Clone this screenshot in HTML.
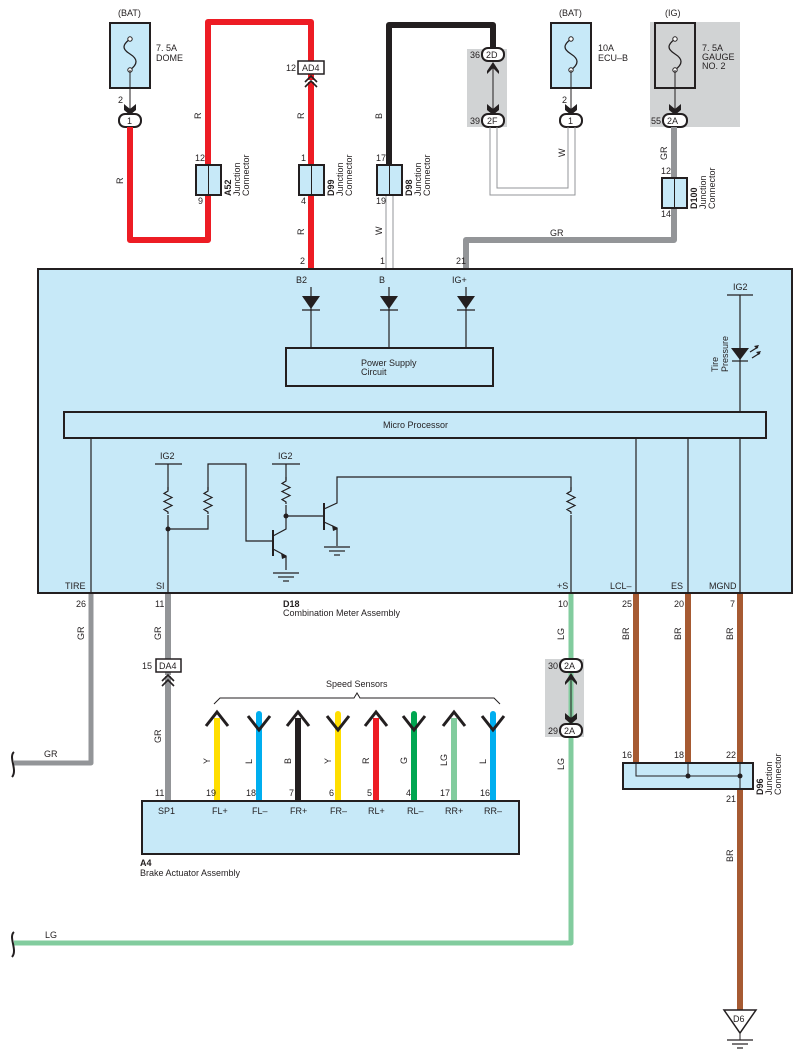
<!DOCTYPE html>
<html><head><meta charset="utf-8"><style>
html,body{margin:0;padding:0;background:#fff;}
svg{display:block;font-family:"Liberation Sans",sans-serif;}
text{font-size:9px;fill:#231f20;}
.b{font-weight:bold;}
</style></head><body>
<svg width="802" height="1063" viewBox="0 0 802 1063" xmlns="http://www.w3.org/2000/svg">
<defs>
<g id="fuse"><path d="M0,0 c-8,6 -8,10 0,15 c8,5 8,10 0,16" fill="none" stroke="#231f20" stroke-width="1.3"/><circle cx="0" cy="0" r="2.2" fill="#fff" stroke="#231f20"/><circle cx="0" cy="31" r="2.2" fill="#fff" stroke="#231f20"/></g>
<g id="fm"><path d="M-6,-6 L0,-1 L6,-6 L6,0 L0,5 L-6,0 Z" fill="#231f20"/></g>
<g id="jc"><rect x="-12" y="0" width="25" height="30" fill="#c7e9f8" stroke="#231f20" stroke-width="2"/><line x1="0.5" y1="0" x2="0.5" y2="30" stroke="#231f20"/></g>
<g id="diode"><path d="M-9,0 L9,0 L0,13 Z" fill="#231f20"/><line x1="-9" y1="14" x2="9" y2="14" stroke="#231f20" stroke-width="1.3"/></g>
<g id="res"><path d="M0,0 l0,4 l-4,2.5 l8,4 l-8,4 l8,4 l-8,4 l4,2.5 l0,2" fill="none" stroke="#231f20" stroke-width="1.2"/></g>
<g id="gnd"><line x1="-13" y1="0" x2="13" y2="0" stroke="#231f20" stroke-width="1.2"/><line x1="-8" y1="4" x2="8" y2="4" stroke="#231f20" stroke-width="1.2"/><line x1="-3" y1="8" x2="3" y2="8" stroke="#231f20" stroke-width="1.2"/></g>
<g id="up"><path d="M-11,14 L0,0 L11,14" fill="none" stroke="#231f20" stroke-width="3"/></g>
<g id="dn"><path d="M-11,4 L0,18 L11,4" fill="none" stroke="#231f20" stroke-width="3"/></g>
</defs>

<!-- grey shaded regions -->
<rect x="467" y="49" width="40" height="78" fill="#d1d3d4"/>
<rect x="650" y="22" width="90" height="105" fill="#d1d3d4"/>
<rect x="545" y="659" width="39" height="78" fill="#d1d3d4"/>

<!-- fuses -->
<text x="118" y="16">(BAT)</text>
<rect x="110" y="23" width="40" height="65" fill="#c7e9f8" stroke="#231f20" stroke-width="2"/>
<use href="#fuse" x="130" y="39"/>
<text x="156" y="51">7. 5A</text><text x="156" y="61">DOME</text>
<line x1="130" y1="70" x2="130" y2="110" stroke="#231f20"/>
<text x="118" y="103">2</text>
<use href="#fm" x="130" y="110"/>
<rect x="119" y="114" width="22" height="13" rx="6" fill="#fff" stroke="#231f20" stroke-width="2"/>
<text x="127" y="124">1</text>

<text x="559" y="16">(BAT)</text>
<rect x="551" y="23" width="40" height="65" fill="#c7e9f8" stroke="#231f20" stroke-width="2"/>
<use href="#fuse" x="571" y="39"/>
<text x="598" y="51">10A</text><text x="598" y="61">ECU–B</text>
<line x1="571" y1="70" x2="571" y2="110" stroke="#231f20"/>
<text x="562" y="103">2</text>
<use href="#fm" x="571" y="110"/>
<rect x="560" y="114" width="22" height="13" rx="6" fill="#fff" stroke="#231f20" stroke-width="2"/>
<text x="568" y="124">1</text>

<text x="665" y="16">(IG)</text>
<rect x="655" y="23" width="40" height="65" fill="#d1d3d4" stroke="#231f20" stroke-width="2"/>
<use href="#fuse" x="675" y="39"/>
<text x="702" y="51">7. 5A</text><text x="702" y="60">GAUGE</text><text x="702" y="69">NO. 2</text>
<line x1="675" y1="70" x2="675" y2="110" stroke="#231f20"/>
<use href="#fm" x="675" y="110"/>
<rect x="663" y="114" width="24" height="13" rx="6" fill="#fff" stroke="#231f20" stroke-width="2"/>
<text x="667" y="124">2A</text><text x="651" y="124">55</text>

<!-- red wires -->
<path d="M130,127 V240 H208 V22 H311 V80" fill="none" stroke="#ed1c24" stroke-width="6" stroke-linejoin="round"/>
<path d="M311,82 V269" fill="none" stroke="#ed1c24" stroke-width="6"/>
<rect x="298" y="61" width="26" height="13" fill="#fff" stroke="#231f20" stroke-width="1.5"/>
<text x="302" y="71">AD4</text><text x="286" y="71">12</text>
<path d="M305,82 L311,76 L317,82 M305,87 L311,81 L317,87" fill="none" stroke="#231f20" stroke-width="1.6"/>

<!-- black wire -->
<path d="M389,165 V25 H493 V48" fill="none" stroke="#231f20" stroke-width="6" stroke-linejoin="round"/>
<!-- 2D/2F -->
<rect x="482" y="48" width="22" height="13" rx="6" fill="#fff" stroke="#231f20" stroke-width="2"/>
<text x="486" y="58">2D</text><text x="470" y="58">36</text>
<line x1="493" y1="65" x2="493" y2="110" stroke="#231f20"/>
<path d="M487,71 L493,62 L499,71 L499,74 L493,68 L487,74 Z" fill="#231f20"/>
<use href="#fm" x="493" y="110"/>
<rect x="482" y="114" width="22" height="13" rx="6" fill="#fff" stroke="#231f20" stroke-width="2"/>
<text x="487" y="124">2F</text><text x="470" y="124">39</text>

<!-- W wires -->
<path d="M490,127 V195 H575 V127 M497,127 V188 H568 V127" fill="none" stroke="#939598" stroke-width="1"/>
<path d="M386,195 V269 M393,195 V269" fill="none" stroke="#939598" stroke-width="1"/>

<!-- GR wire -->
<path d="M674,127 V240 H466 V269" fill="none" stroke="#939598" stroke-width="6" stroke-linejoin="round"/>

<!-- junction connectors -->
<use href="#jc" x="208" y="165"/><use href="#jc" x="311" y="165"/><use href="#jc" x="389" y="165"/><use href="#jc" x="674" y="178"/>
<text x="195" y="161">12</text><text x="198" y="204">9</text>
<text x="301" y="161">1</text><text x="301" y="204">4</text>
<text x="376" y="161">17</text><text x="376" y="204">19</text>
<text x="661" y="174">12</text><text x="661" y="217">14</text>
<text x="300" y="264">2</text><text x="380" y="264">1</text><text x="456" y="264">21</text>
<g font-size="9">
<text transform="translate(231,196) rotate(-90)" class="b">A52</text>
<text transform="translate(240,196) rotate(-90)">Junction</text>
<text transform="translate(249,196) rotate(-90)">Connector</text>
<text transform="translate(334,196) rotate(-90)" class="b">D99</text>
<text transform="translate(343,196) rotate(-90)">Junction</text>
<text transform="translate(352,196) rotate(-90)">Connector</text>
<text transform="translate(412,196) rotate(-90)" class="b">D98</text>
<text transform="translate(421,196) rotate(-90)">Junction</text>
<text transform="translate(430,196) rotate(-90)">Connector</text>
<text transform="translate(697,209) rotate(-90)" class="b">D100</text>
<text transform="translate(706,209) rotate(-90)">Junction</text>
<text transform="translate(715,209) rotate(-90)">Connector</text>
</g>
<!-- wire labels -->
<text transform="translate(123,184) rotate(-90)">R</text>
<text transform="translate(201,119) rotate(-90)">R</text>
<text transform="translate(304,119) rotate(-90)">R</text>
<text transform="translate(304,235) rotate(-90)">R</text>
<text transform="translate(382,119) rotate(-90)">B</text>
<text transform="translate(382,235) rotate(-90)">W</text>
<text transform="translate(565,157) rotate(-90)">W</text>
<text transform="translate(667,160) rotate(-90)">GR</text>
<text x="550" y="236">GR</text>

<!-- main box -->
<rect x="38" y="269" width="754" height="324" fill="#c7e9f8" stroke="#231f20" stroke-width="2"/>
<text x="296" y="283">B2</text><text x="379" y="283">B</text><text x="452" y="283">IG+</text>
<g stroke="#231f20" stroke-width="1.2" fill="none">
<line x1="311" y1="287" x2="311" y2="347"/><line x1="389" y1="287" x2="389" y2="347"/><line x1="466" y1="287" x2="466" y2="347"/>
</g>
<use href="#diode" x="311" y="296"/><use href="#diode" x="389" y="296"/><use href="#diode" x="466" y="296"/>
<rect x="286" y="348" width="207" height="38" fill="#c7e9f8" stroke="#231f20" stroke-width="2"/>
<text x="361" y="366">Power Supply</text><text x="361" y="375">Circuit</text>
<rect x="64" y="412" width="702" height="26" fill="#c7e9f8" stroke="#231f20" stroke-width="2"/>
<text x="383" y="428">Micro Processor</text>
<!-- LED -->
<text x="733" y="290">IG2</text>
<line x1="727" y1="295" x2="753" y2="295" stroke="#231f20" stroke-width="1.2"/>
<line x1="740" y1="295" x2="740" y2="412" stroke="#231f20" stroke-width="1.2"/>
<path d="M731,348 L749,348 L740,360 Z" fill="#231f20"/>
<line x1="732" y1="361" x2="748" y2="361" stroke="#231f20" stroke-width="1.2"/>
<path d="M750,352 L758,347 M752,358 L760,353" stroke="#231f20" stroke-width="1.2"/>
<path d="M759,345 L754,346 L757,349 Z M761,351 L756,352 L759,355 Z" fill="#231f20"/>
<text transform="translate(718,372) rotate(-90)">Tire</text>
<text transform="translate(728,372) rotate(-90)">Pressure</text>
<!-- lines from micro -->
<g stroke="#231f20" stroke-width="1.2" fill="none">
<line x1="91" y1="438" x2="91" y2="593"/>
<line x1="636" y1="438" x2="636" y2="593"/>
<line x1="688" y1="438" x2="688" y2="593"/>
<line x1="740" y1="438" x2="740" y2="593"/>
<!-- circuit -->
<line x1="155" y1="464" x2="182" y2="464"/>
<line x1="168" y1="464" x2="168" y2="490"/>
<line x1="168" y1="515" x2="168" y2="593"/>
<path d="M168,529 H208 V515"/>
<path d="M208,490 V464 H246 V541 H273"/>
<line x1="273" y1="530" x2="273" y2="556" stroke-width="2"/>
<path d="M273,536 L286,529 V505"/>
<path d="M273,549 L286,556 V570"/>
<line x1="272" y1="464" x2="300" y2="464"/>
<line x1="286" y1="464" x2="286" y2="480"/>
<line x1="286" y1="516" x2="324" y2="516"/>
<line x1="324" y1="503" x2="324" y2="530" stroke-width="2"/>
<path d="M324,509 L337,503 V477 H571 V490"/>
<path d="M324,522 L337,528 V546"/>
<line x1="571" y1="515" x2="571" y2="593"/>
</g>
<use href="#res" x="168" y="487"/><use href="#res" x="208" y="487"/><use href="#res" x="286" y="477"/><use href="#res" x="571" y="487"/>
<circle cx="168" cy="529" r="2.5" fill="#231f20"/><circle cx="286" cy="516" r="2.5" fill="#231f20"/>
<path d="M281,553 L287,557 L282,559 Z" fill="#231f20"/><path d="M332,525 L338,529 L333,531 Z" fill="#231f20"/>
<use href="#gnd" x="286" y="573"/><use href="#gnd" x="337" y="547"/>
<text x="160" y="459">IG2</text><text x="278" y="459">IG2</text>
<text x="65" y="589">TIRE</text><text x="156" y="589">SI</text><text x="557" y="589">+S</text>
<text x="610" y="589">LCL–</text><text x="671" y="589">ES</text><text x="709" y="589">MGND</text>

<!-- below main -->
<text x="283" y="607" class="b">D18</text><text x="283" y="616">Combination Meter Assembly</text>
<text x="76" y="607">26</text><text x="155" y="607">11</text><text x="558" y="607">10</text>
<text x="622" y="607">25</text><text x="674" y="607">20</text><text x="730" y="607">7</text>
<path d="M91,594 V763 H14" fill="none" stroke="#939598" stroke-width="5" stroke-linejoin="round"/>
<path d="M14,752 c-6,5 4,18 -2,25" fill="none" stroke="#231f20" stroke-width="2"/>
<text x="44" y="757">GR</text>
<text transform="translate(84,640) rotate(-90)">GR</text>
<path d="M168,594 V675" stroke="#939598" stroke-width="6"/>
<path d="M168,676 V800" stroke="#939598" stroke-width="6"/>
<rect x="156" y="659" width="25" height="13" fill="#fff" stroke="#231f20" stroke-width="1.5"/>
<text x="159" y="669">DA4</text><text x="142" y="669">15</text>
<path d="M162,681 L168,675 L174,681 M162,686 L168,680 L174,686" fill="none" stroke="#231f20" stroke-width="1.6"/>
<text transform="translate(161,640) rotate(-90)">GR</text>
<text transform="translate(161,743) rotate(-90)">GR</text>
<text x="155" y="796">11</text>

<!-- LG -->
<path d="M571,594 V943 H14" fill="none" stroke="#82cc9e" stroke-width="5" stroke-linejoin="round"/>
<path d="M14,932 c-6,5 4,18 -2,25" fill="none" stroke="#231f20" stroke-width="2"/>
<text x="45" y="938">LG</text>
<text transform="translate(564,640) rotate(-90)">LG</text>
<text transform="translate(564,770) rotate(-90)">LG</text>
<rect x="560" y="659" width="22" height="13" rx="6" fill="#fff" stroke="#231f20" stroke-width="2"/>
<text x="564" y="669">2A</text><text x="548" y="669">30</text>
<line x1="571" y1="676" x2="571" y2="720" stroke="#231f20"/>
<path d="M565,682 L571,673 L577,682 L577,685 L571,679 L565,685 Z" fill="#231f20"/>
<use href="#fm" x="571" y="719"/>
<rect x="560" y="724" width="22" height="13" rx="6" fill="#fff" stroke="#231f20" stroke-width="2"/>
<text x="564" y="734">2A</text><text x="548" y="734">29</text>

<!-- brown -->
<g stroke="#a65a32" stroke-width="6" fill="none">
<line x1="636" y1="594" x2="636" y2="763"/><line x1="688" y1="594" x2="688" y2="763"/><line x1="740" y1="594" x2="740" y2="1010"/>
</g>
<text transform="translate(629,640) rotate(-90)">BR</text>
<text transform="translate(681,640) rotate(-90)">BR</text>
<text transform="translate(733,640) rotate(-90)">BR</text>
<text transform="translate(733,862) rotate(-90)">BR</text>
<text x="622" y="758">16</text><text x="674" y="758">18</text><text x="726" y="758">22</text><text x="726" y="802">21</text>
<rect x="623" y="763" width="130" height="26" fill="#c7e9f8" stroke="#231f20" stroke-width="2"/>
<path d="M636,763 V776 H740 M688,763 V776 M740,763 V789" fill="none" stroke="#231f20" stroke-width="1"/>
<circle cx="688" cy="776" r="2.5" fill="#231f20"/><circle cx="740" cy="776" r="2.5" fill="#231f20"/>
<text transform="translate(763,795) rotate(-90)" class="b">D96</text>
<text transform="translate(772,795) rotate(-90)">Junction</text>
<text transform="translate(781,795) rotate(-90)">Connector</text>
<path d="M724,1010 L756,1010 L740,1033 Z" fill="#fff" stroke="#231f20" stroke-width="1.5"/>
<text x="733" y="1022">D6</text>
<line x1="740" y1="1033" x2="740" y2="1040" stroke="#231f20"/>
<use href="#gnd" x="740" y="1040"/>

<!-- A4 -->
<g stroke-width="6" fill="none">
<line x1="217" y1="718" x2="217" y2="800" stroke="#ffde00"/>
<line x1="259" y1="714" x2="259" y2="800" stroke="#00aeef" stroke-linecap="round"/>
<line x1="298" y1="718" x2="298" y2="800" stroke="#231f20"/>
<line x1="338" y1="714" x2="338" y2="800" stroke="#ffde00" stroke-linecap="round"/>
<line x1="376" y1="718" x2="376" y2="800" stroke="#ed1c24"/>
<line x1="414" y1="714" x2="414" y2="800" stroke="#00a651" stroke-linecap="round"/>
<line x1="454" y1="718" x2="454" y2="800" stroke="#82cc9e"/>
<line x1="493" y1="714" x2="493" y2="800" stroke="#00aeef" stroke-linecap="round"/>
</g>
<use href="#up" x="217" y="712"/><use href="#dn" x="259" y="712"/><use href="#up" x="298" y="712"/><use href="#dn" x="338" y="712"/>
<use href="#up" x="376" y="712"/><use href="#dn" x="414" y="712"/><use href="#up" x="454" y="712"/><use href="#dn" x="493" y="712"/>
<path d="M214,704 L220,698 H354 L357,693 L360,698 H494 L500,704" fill="none" stroke="#231f20" stroke-width="1"/>
<text x="326" y="687">Speed Sensors</text>
<text transform="translate(210,764) rotate(-90)">Y</text>
<text transform="translate(252,764) rotate(-90)">L</text>
<text transform="translate(291,764) rotate(-90)">B</text>
<text transform="translate(331,764) rotate(-90)">Y</text>
<text transform="translate(369,764) rotate(-90)">R</text>
<text transform="translate(407,764) rotate(-90)">G</text>
<text transform="translate(447,766) rotate(-90)">LG</text>
<text transform="translate(486,764) rotate(-90)">L</text>
<text x="206" y="796">19</text><text x="246" y="796">18</text><text x="289" y="796">7</text><text x="329" y="796">6</text>
<text x="367" y="796">5</text><text x="406" y="796">4</text><text x="440" y="796">17</text><text x="480" y="796">16</text>
<rect x="142" y="801" width="377" height="53" fill="#c7e9f8" stroke="#231f20" stroke-width="2"/>
<text x="158" y="814">SP1</text><text x="212" y="814">FL+</text><text x="252" y="814">FL–</text><text x="290" y="814">FR+</text>
<text x="330" y="814">FR–</text><text x="368" y="814">RL+</text><text x="407" y="814">RL–</text><text x="445" y="814">RR+</text><text x="484" y="814">RR–</text>
<text x="140" y="866" class="b">A4</text><text x="140" y="876">Brake Actuator Assembly</text>
</svg>
</body></html>
